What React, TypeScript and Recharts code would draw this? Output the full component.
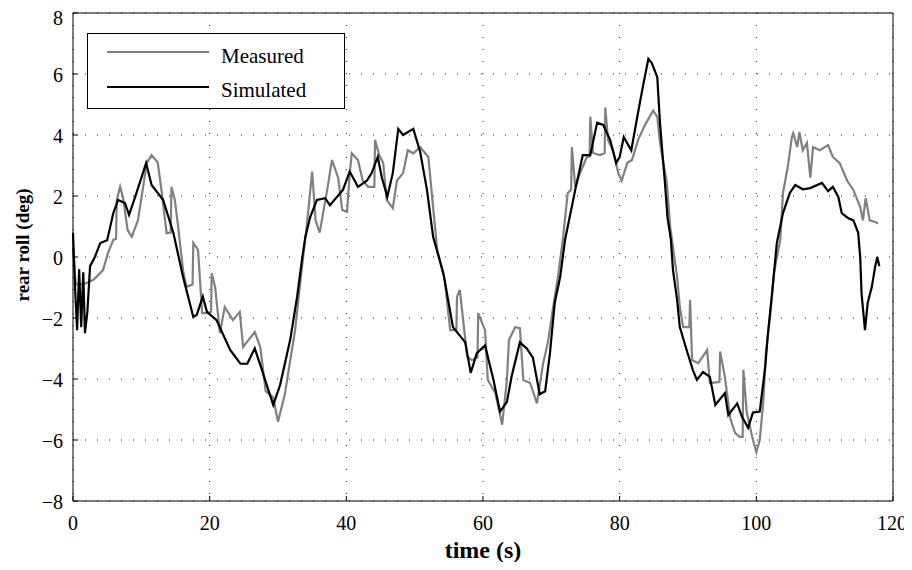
import React from 'react';
import { LineChart, Line, XAxis, YAxis, CartesianGrid, Legend } from 'recharts';

// time (s) and rear roll (deg)
const measuredTime = [
  0, 0.4, 1.5, 3, 4.4, 5.1, 5.9, 6.3, 6.4, 6.9, 7.3, 8, 8.6, 9.5, 10.2, 10.8, 11.5, 12.4, 13, 13.7,
  14.3, 14.4, 14.9, 15.4, 16.1, 16.6, 17.5, 17.6, 18.3, 18.9, 19.6, 20.2, 20.3, 20.8, 21.5, 22.2, 23.4, 24.4, 24.9, 26.6,
  27.4, 28.2, 29.3, 30, 31, 32.5, 33.5, 34.2, 35, 35.5, 36.1, 37.2, 37.9, 38.8, 39.4, 40.1, 40.5, 40.8, 41.7, 42.4,
  43.2, 44.1, 44.2, 44.8, 45.4, 45.9, 46.8, 47.4, 48.3, 49, 49.8, 50.8, 52, 52.5, 53.3, 54.4, 55.2, 56.1, 56.2, 56.6,
  57.7, 58.4, 59.2, 59.3, 60.3, 60.7, 61.8, 62.8, 63.5, 63.8, 64.7, 65.4, 65.9, 66.9, 67.9, 68.8, 69.5, 70.2, 71, 71.7,
  72.4, 72.9, 73, 73.5, 74.2, 75.2, 75.6, 75.7, 76.1, 77.1, 77.8, 77.9, 78.3, 79, 79.8, 80.3, 81.1, 81.8, 82.7, 83.7,
  84.9, 85.5, 85.9, 86.9, 87.4, 88.4, 88.8, 89.3, 90.2, 90.3, 90.6, 91.5, 92.8, 93.2, 94.6, 94.7, 95.4, 96.2, 96.9, 97.6,
  98, 98.1, 98.6, 99.4, 100, 100.5, 101, 101.4, 102, 102.6, 103.5, 103.9, 104.6, 105.2, 105.4, 106, 106.3, 106.8, 107.4, 107.9,
  108.3, 109.3, 110.5, 111.2, 112.2, 113.3, 114.2, 115.2, 115.6, 116, 116.6, 117.4, 117.8,
];
const measuredRoll = [
  0.3, -0.9, -0.9, -0.75, -0.43, 0.12, 0.56, 0.6, 1.87, 2.3, 1.97, 0.88, 0.66, 1.2, 2.2, 3.08, 3.34, 3.1, 2.1, 0.78,
  0.8, 2.3, 1.87, 0.98, -0.43, -0.98, -0.9, 0.46, 0.23, -1.84, -1.84, -1.8, -0.53, -0.98, -2.5, -1.64, -2.07, -1.8, -2.95, -2.46,
  -2.95, -4.4, -4.6, -5.4, -4.5, -2.4, -0.36, 1.0, 2.8, 1.2, 0.8, 2.2, 3.18, 2.6, 1.54, 1.48, 2.75, 3.4, 3.18, 2.5,
  2.3, 2.3, 3.84, 3.34, 3.08, 1.87, 1.6, 2.5, 2.75, 3.5, 3.4, 3.6, 3.28, 2.1, 0.23, -0.75, -2.4, -2.4, -1.3, -1.08,
  -3.28, -3.38, -3.3, -1.84, -2.4, -4.03, -4.46, -5.5, -4.03, -2.72, -2.3, -2.33, -4.03, -4.13, -4.8, -3.48, -2.8, -1.74, -0.6, 0.6,
  2.1, 2.2, 3.6, 2.3, 2.75, 3.28, 3.3, 4.6, 3.41, 3.34, 3.4, 4.9, 3.84, 3.5, 2.75, 2.5, 3.08, 3.18, 3.84, 4.33,
  4.8, 4.6, 3.74, 2.43, 0.98, -0.65, -1.64, -2.3, -2.3, -1.4, -3.38, -3.48, -3.05, -4.13, -4.1, -3.1, -3.93, -5.3, -5.77, -5.9,
  -5.9, -3.7, -5.1, -5.9, -6.4, -6.0, -4.8, -3.15, -1.97, -0.5, 0.56, 2.1, 2.95, 3.93, 4.06, 3.6, 4.1, 3.5, 3.74, 2.6,
  3.6, 3.5, 3.67, 3.28, 3.08, 2.5, 2.2, 1.64, 1.2, 1.93, 1.2, 1.15, 1.1,
];

const simulatedTime = [
  0, 0.3, 0.6, 0.9, 1.2, 1.5, 1.75, 2.1, 2.5, 3.2, 4, 5, 5.9, 6.6, 7.6, 8.2, 9.1, 10.7, 11.5, 13.2,
  14.7, 16.1, 17.6, 18.1, 19, 19.6, 21, 23, 24.5, 25.5, 26.6, 27.5, 28.5, 29.3, 30.3, 31.8, 32.8, 33.5, 34, 34.7,
  35.7, 36.9, 37.6, 39.5, 40.5, 41.7, 43, 43.7, 44.6, 45.2, 46, 46.8, 47.6, 48.3, 49.8, 50.8, 51.8, 52.7, 54.2, 55.6,
  57.4, 58.2, 59.1, 60.3, 61.5, 62.5, 63.5, 64.2, 65.4, 66.4, 67.3, 68.3, 69.1, 69.8, 70.5, 71.3, 72, 73.5, 74.6, 75.7,
  76.7, 77.6, 78.6, 79.5, 80, 80.6, 81.7, 82.5, 83.3, 84.2, 84.7, 85.5, 85.9, 86.3, 86.6, 87, 87.5, 87.8, 88.4, 88.8,
  89.8, 90.7, 91.3, 92.2, 93.2, 94, 95.4, 95.9, 97.2, 97.9, 98.8, 99.5, 100.5, 101.3, 101.7, 102.3, 103, 103.9, 104.9, 105.7,
  106.8, 107.9, 109.6, 110.5, 111.2, 112, 112.5, 113.4, 114.2, 114.9, 115.2, 115.4, 115.9, 116.3, 116.9, 117.4, 117.7, 118,
];
const simulatedRoll = [
  0.8, -1.0, -2.4, -0.4, -2.3, -0.5, -2.5, -1.8, -0.3, 0.0, 0.46, 0.55, 1.44, 1.87, 1.77, 1.38, 1.97, 3.08, 2.36, 1.87,
  0.78, -0.65, -1.96, -1.9, -1.3, -1.8, -2.07, -3.05, -3.5, -3.5, -3.0, -3.6, -4.3, -4.85, -4.2, -2.7, -1.3, -0.1, 0.66, 1.3,
  1.87, 1.93, 1.7, 2.2, 2.8, 2.3, 2.5, 2.75, 3.28, 2.6, 1.98, 2.75, 4.2, 4.0, 4.2, 3.45, 2.2, 0.66, -0.53, -2.3,
  -2.8, -3.8, -3.15, -2.9, -4.0, -5.07, -4.75, -3.9, -2.8, -3.0, -3.3, -4.5, -4.4, -3.15, -1.5, -0.65, 0.56, 2.2, 3.34, 3.34,
  4.4, 4.33, 3.84, 3.08, 3.28, 3.93, 3.5, 4.5, 5.47, 6.5, 6.36, 5.9, 4.4, 3.28, 2.5, 1.3, 0.56, -0.43, -1.4, -2.3,
  -3.05, -3.7, -4.03, -3.77, -3.93, -4.85, -4.46, -5.18, -4.8, -5.24, -5.6, -5.1, -5.07, -3.6, -2.5, -1.2, 0.46, 1.44, 2.1, 2.36,
  2.22, 2.26, 2.43, 2.16, 2.3, 1.97, 1.44, 1.28, 1.2, 0.8, 0.0, -1.2, -2.4, -1.5, -0.98, -0.3, 0.0, -0.3,
];

const xTicks = [0, 20, 40, 60, 80, 100, 120];
const yTicks = [-8, -6, -4, -2, 0, 2, 4, 6, 8];

const measured = measuredTime.map((t, i) => ({ t, v: measuredRoll[i] }));
const simulated = simulatedTime.map((t, i) => ({ t, v: simulatedRoll[i] }));

const font = '"Liberation Serif", "Times New Roman", serif';
const minus = (v: number) => String(v).replace('-', '\u2212');

const XTick = (props: any) => (
  <text x={props.x} y={props.y} dy={14} textAnchor="middle" fontSize={20} fontFamily={font} fill="#000">
    {props.payload.value}
  </text>
);

const YTick = (props: any) => (
  <text x={props.x} y={props.y} dy={8} textAnchor="end" fontSize={20} fontFamily={font} fill="#000">
    {minus(props.payload.value)}
  </text>
);

const renderLegend = (props: any) => {
  const payload = props.payload || [];
  return (
    <svg width={258} height={76} style={{ display: 'block' }}>
      <rect x={0.5} y={0.5} width={257} height={75} fill="#fff" stroke="#000" strokeWidth={1} />
      {payload.map((entry: any, i: number) => (
        <g key={entry.value}>
          <line x1={20} x2={122} y1={19 + i * 35} y2={19 + i * 35} stroke={entry.color} strokeWidth={2.2} />
          <text x={134} y={30 + i * 34} fontSize={21} fontFamily={font} fill="#000">
            {entry.value}
          </text>
        </g>
      ))}
    </svg>
  );
};

export default function App() {
  return (
    <div style={{ width: 896, height: 554, fontFamily: font }}>
      <style>{'.recharts-surface { overflow: visible; }'}</style>
      <LineChart width={896} height={554} margin={{ top: 0, right: 0, bottom: 0, left: 0 }}>
        <CartesianGrid stroke="#222" strokeDasharray="1 11" />
        <XAxis
          dataKey="t"
          type="number"
          domain={[0, 120]}
          ticks={xTicks}
          height={61}
          stroke="#000"
          tickSize={-5}
          tickMargin={20}
          tick={<XTick />}
          label={{ value: 'time (s)', position: 'insideBottom', offset: 4, fontSize: 24, fontWeight: 'bold', fill: '#000', fontFamily: font }}
        />
        <XAxis
          xAxisId="top"
          orientation="top"
          type="number"
          domain={[0, 120]}
          ticks={xTicks}
          height={5}
          stroke="#000"
          tickSize={-5}
          tick={false}
        />
        <YAxis
          type="number"
          domain={[-8, 8]}
          ticks={yTicks}
          width={65}
          stroke="#000"
          tickSize={-5}
          tickMargin={15}
          tick={<YTick />}
          label={{ value: 'rear roll (deg)', position: 'center', angle: -90, dx: -18, dy: -12, fontSize: 19, fontWeight: 'bold', fill: '#000', fontFamily: font }}
        />
        <YAxis
          yAxisId="right"
          orientation="right"
          type="number"
          domain={[-8, 8]}
          ticks={yTicks}
          width={11}
          stroke="#000"
          tickSize={-5}
          tick={false}
        />
        <Legend
          layout="horizontal"
          verticalAlign="middle"
          align="center"
          content={renderLegend}
          wrapperStyle={{ left: 79, top: 25, width: 258, height: 76 }}
        />
        <Line
          data={measured}
          dataKey="v"
          name="Measured"
          type="linear"
          stroke="#808080"
          strokeWidth={2.2}
          dot={false}
          isAnimationActive={false}
        />
        <Line
          data={simulated}
          dataKey="v"
          name="Simulated"
          type="linear"
          stroke="#000"
          strokeWidth={2.2}
          dot={false}
          isAnimationActive={false}
        />
      </LineChart>
    </div>
  );
}
